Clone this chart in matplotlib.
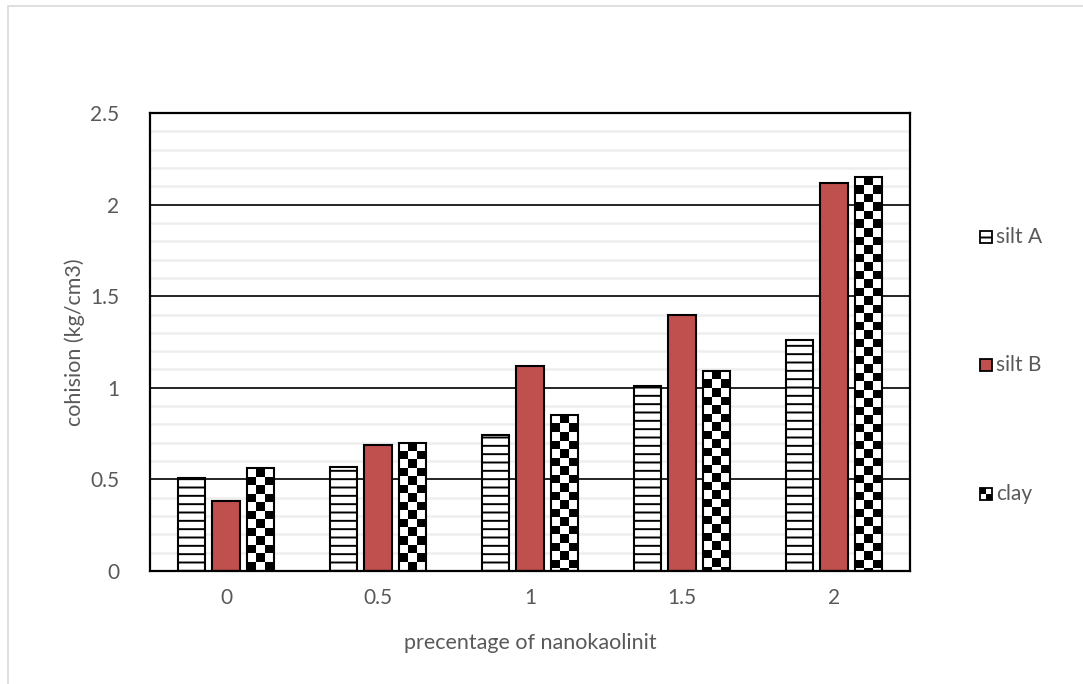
"""Cohesion vs. nanokaolinite percentage, grouped bars for three soils."""
import numpy as np
import matplotlib
matplotlib.use("Agg")
import matplotlib.pyplot as plt
from matplotlib.patches import Rectangle

# --------------------------------------------------------------------------- #
# Data
# --------------------------------------------------------------------------- #
categories = ['0', '0.5', '1', '1.5', '2']
silt_a     = [0.51, 0.57, 0.74, 1.01, 1.26]
silt_b     = [0.38, 0.69, 1.12, 1.40, 2.12]
clay       = [0.56, 0.70, 0.85, 1.09, 2.15]
series_names = ['silt A', 'silt B', 'clay']

TXT   = '#595959'
RED   = '#C0504D'
FONT  = ['Lato', 'DejaVu Sans']
W, H, DPI = 1083, 684, 100
FS = 15

plt.rcParams['font.family'] = FONT
plt.rcParams['hatch.linewidth'] = 1.4
plt.rcParams['hatch.color'] = 'black'

fig = plt.figure(figsize=(W / DPI, H / DPI), dpi=DPI)
ax = fig.add_axes([150 / W, 1 - 571 / H, 760 / W, 458 / H])

# outer chart frame (only top/left edges visible in the reference)
fig.patches.append(Rectangle((8 / W, -0.2), 1.2, 1.2 - 6 / H, transform=fig.transFigure,
                             fill=False, ec='#D9D9D9', lw=1.2))

x = np.arange(len(categories))
bw, step = 0.178, 0.224

bars_a = ax.bar(x - step, silt_a, bw, facecolor='white', edgecolor='black',
                lw=1.5, hatch='--', zorder=3)
bars_b = ax.bar(x, silt_b, bw, facecolor=RED, edgecolor='black', lw=1.5, zorder=3)
bars_c = ax.bar(x + step, clay, bw, facecolor='none', edgecolor='black',
                lw=1.5, zorder=3.5)

# checkerboard fill for the clay bars, ~8.5 px squares, anchored at bar top
px_x = len(categories) / 760.0
px_y = 2.5 / 458.0
sq = 8.5
for b in bars_c:
    x0, w, h = b.get_x(), b.get_width(), b.get_height()
    nx = int(np.ceil(w / (sq * px_x))) + 1
    ny = int(np.ceil(h / (sq * px_y))) + 1
    board = (np.indices((ny, nx)).sum(axis=0) % 2).astype(float)
    im = ax.imshow(board, cmap='gray_r', vmin=0, vmax=1, interpolation='nearest',
                   origin='upper', aspect='auto', zorder=3,
                   extent=(x0, x0 + nx * sq * px_x, h - ny * sq * px_y, h))
    im.set_clip_path(Rectangle((x0, 0), w, h, transform=ax.transData))
ax.set_xlim(-0.5, len(categories) - 0.5)
ax.set_ylim(0, 2.5)

# gridlines
ax.set_yticks(np.arange(0, 2.51, 0.5))
ax.set_yticks(np.arange(0, 2.51, 0.1), minor=True)
ax.grid(axis='y', which='minor', color='#EEEEEE', lw=1.8, zorder=0)
ax.grid(axis='y', which='major', color='black', lw=1.2, zorder=1)
ax.set_axisbelow(True)
ax.tick_params(which='both', length=0)
ax.tick_params(axis='y', pad=22, labelsize=FS, labelcolor=TXT)
ax.tick_params(axis='x', pad=12, labelsize=FS, labelcolor=TXT)
ax.set_yticklabels(['0', '0.5', '1', '1.5', '2', '2.5'])
ax.set_xticks(x)
ax.set_xticklabels(categories)
for s in ax.spines.values():
    s.set_linewidth(1.6)
    s.set_color('black')
    s.set_zorder(4)

ax.set_ylabel('cohision (kg/cm3)', fontsize=FS + 0.5, color=TXT, va='center')
ax.yaxis.set_label_coords((75 - 150) / 760, 0.5)
ax.set_xlabel('precentage of nanokaolinit', fontsize=FS + 0.5, color=TXT, va='center')
ax.xaxis.set_label_coords(0.5, (571 - 643) / 458)

# legend, spread down the right side like the Excel original
ys = [237, 365, 494]
for name, y, kind in zip(series_names, ys, ['h', 'r', 'c']):
    yf = 1 - y / H
    x0f = 980 / W
    if kind == 'h':
        fig.patches.append(Rectangle((x0f, yf - 6 / H), 12 / W, 12 / H,
                                     transform=fig.transFigure, fc='white', ec='black',
                                     lw=1.3, hatch='--'))
    elif kind == 'r':
        fig.patches.append(Rectangle((x0f, yf - 6 / H), 12 / W, 12 / H,
                                     transform=fig.transFigure, fc=RED, ec='black', lw=1.3))
    else:
        fig.patches.append(Rectangle((x0f, yf), 6 / W, 6 / H,
                                     transform=fig.transFigure, fc='black', lw=0))
        fig.patches.append(Rectangle((x0f + 6 / W, yf - 6 / H), 6 / W, 6 / H,
                                     transform=fig.transFigure, fc='black', lw=0))
        fig.patches.append(Rectangle((x0f, yf - 6 / H), 12 / W, 12 / H,
                                     transform=fig.transFigure, fc='none', ec='black', lw=1.3))
    fig.text(996 / W, yf, name, fontsize=FS, color=TXT, va='center', ha='left')

fig.savefig('out.png', dpi=DPI)
